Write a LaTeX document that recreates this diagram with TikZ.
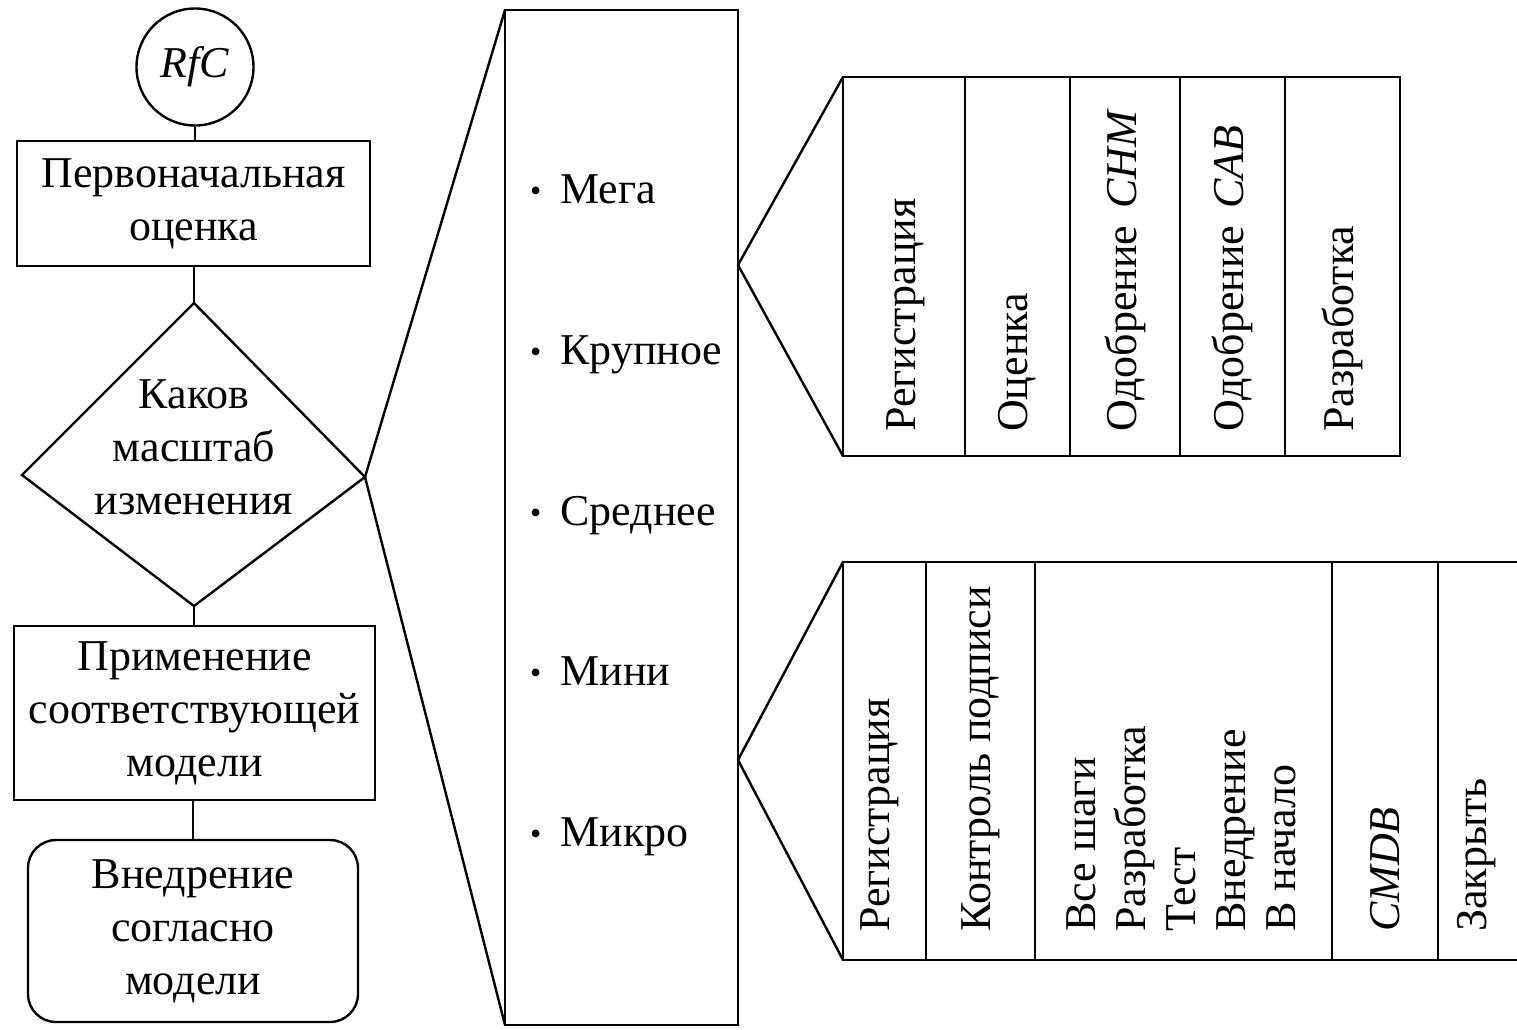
\documentclass[tikz,border=0pt]{standalone}
\usepackage{fontspec}
\setmainfont{Liberation Serif}
\usetikzlibrary{shapes.geometric}
\tikzset{
  ln/.style={line width=2.4pt},
  box/.style={draw, ln, rectangle, inner sep=0pt, align=center, font=\fontsize{44}{53}\selectfont},
  colbox/.style={draw, ln, rectangle, inner sep=0pt, outer sep=0pt},
  rot/.style={rotate=90, inner sep=0pt, align=left, font=\fontsize{44}{50}\selectfont},
  item/.style={inner sep=0pt, anchor=base west, font=\fontsize{44}{53}\selectfont},
  lbl/.style={inner sep=0pt, align=center, font=\fontsize{44}{53}\selectfont}
}
\newcommand{\bul}{{\fontsize{32}{32}\selectfont\raisebox{2pt}{•}}\hspace{19pt}}
\begin{document}
\begin{tikzpicture}[x=1pt,y=-1pt]
\useasboundingbox (0,0) rectangle (1517,1029);
% left flow
\node[draw, ln, circle, minimum size=117pt, inner sep=0pt, font=\fontsize{44}{53}\selectfont\itshape] (rfc) at (195,67) {RfC};
\node[box, minimum width=353pt, minimum height=125pt] (b1) at (193.5,203.5) {Первоначальная\\оценка};
\coordinate (dtop) at (194,303);
\coordinate (dleft) at (22,475);
\coordinate (dright) at (365,477);
\coordinate (dbot) at (194,606);
\draw[ln, line join=miter] (dtop) -- (dright) -- (dbot) -- (dleft) -- cycle;
\node[lbl] (dtext) at (194,447) {Каков\\масштаб\\изменения};
\node[box, minimum width=361pt, minimum height=174pt] (b2) at (194.5,713) {Применение\\соответствующей\\модели};
\node[box, rounded corners=28pt, minimum width=330pt, minimum height=182pt] (b3) at (193,931) {Внедрение\\согласно\\модели};
\draw[ln] (rfc.south) -- (rfc.south |- b1.north);
\draw[ln] (dtop |- b1.south) -- (dtop);
\draw[ln] (dbot) -- (dbot |- b2.north);
\draw[ln] (b3.north |- b2.south) -- (b3.north);
% big box
\node[colbox, minimum width=233pt, minimum height=1015pt] (big) at (621.5,517.5) {};
\draw[ln] (big.north west) -- (dright) -- (big.south west);
\node[item] (i1) at (530,203) {\bul Мега};
\node[item] (i2) at (530,364) {\bul Крупное};
\node[item] (i3) at (530,525) {\bul Среднее};
\node[item] (i4) at (530,685) {\bul Мини};
\node[item] (i5) at (530,846) {\bul Микро};
% upper table
\node[colbox, minimum width=122pt, minimum height=379pt] (u1) at (904,266.5) {};
\node[colbox, minimum width=105pt, minimum height=379pt] (u2) at (1017.5,266.5) {};
\node[colbox, minimum width=110pt, minimum height=379pt] (u3) at (1125,266.5) {};
\node[colbox, minimum width=105pt, minimum height=379pt] (u4) at (1232.5,266.5) {};
\node[colbox, minimum width=115pt, minimum height=379pt] (u5) at (1342.5,266.5) {};
\coordinate (ua) at (738,265);
\draw[ln] (u1.north west) -- (ua) -- (u1.south west);
\node[rot, anchor=west] (ut1) at (906,432) {Регистрация};
\node[rot, anchor=west] (ut2) at (1017.5,432) {Оценка};
\node[rot, anchor=west] (ut3) at (1125,432) {Одобрение\hspace{6pt} \textit{CHM}};
\node[rot, anchor=west] (ut4) at (1232.5,432) {Одобрение\hspace{6pt} \textit{CAB}};
\node[rot, anchor=west] (ut5) at (1342.5,432) {Разработка};
% lower table
\node[colbox, minimum width=83pt, minimum height=398pt] (l1) at (884.5,761) {};
\node[colbox, minimum width=109pt, minimum height=398pt] (l2) at (980.5,761) {};
\node[colbox, minimum width=297pt, minimum height=398pt] (l3) at (1183.5,761) {};
\node[colbox, minimum width=106pt, minimum height=398pt] (l4) at (1385,761) {};
\coordinate (l5ne) at (1517,562);
\coordinate (l5se) at (1517,960);
\draw[ln] (l4.north east) -- (l4.north east -| l5ne);
\draw[ln] (l4.south east) -- (l4.south east -| l5se);
\coordinate (la) at (738,760);
\draw[ln] (l1.north west) -- (la) -- (l1.south west);
\node[rot, anchor=west] (lt1) at (880,932) {Регистрация};
\node[rot, anchor=west] (lt2) at (980.5,932) {Контроль подписи};
\node[rot, anchor=west] (lt3) at (1181,932) {Все шаги\\Разработка\\Тест\\Внедрение\\В начало};
\node[rot, anchor=west] (lt4) at (1385,932) {\textit{CMDB}};
\node[rot, anchor=west] (lt5) at (1477,932) {Закрыть};
\end{tikzpicture}
\end{document}
